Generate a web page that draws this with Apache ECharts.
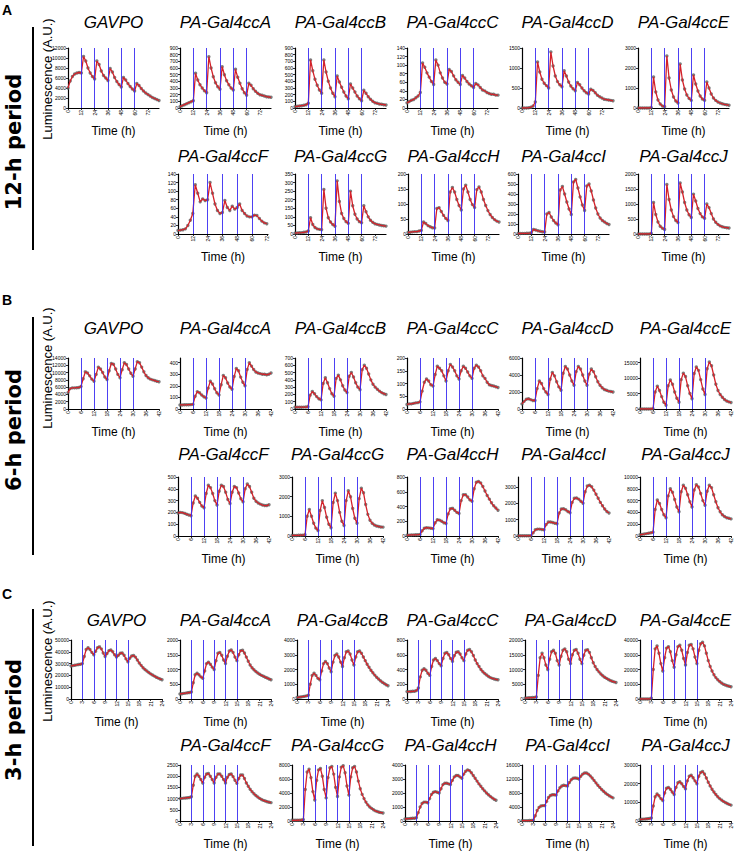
<!DOCTYPE html>
<html><head><meta charset="utf-8">
<script src="https://cdn.jsdelivr.net/npm/echarts@6/dist/echarts.min.js"></script>
<style>html,body{margin:0;padding:0;background:#fff}#c{width:736px;height:851px}</style>
</head><body><div id="c"></div>
<script>
// ---------------- DATA ----------------
const names = ['GAVPO','PA-Gal4ccA','PA-Gal4ccB','PA-Gal4ccC','PA-Gal4ccD','PA-Gal4ccE','PA-Gal4ccF','PA-Gal4ccG','PA-Gal4ccH','PA-Gal4ccI','PA-Gal4ccJ'];
const panelLetters = ['A','B','C'];
const periodLabels = ['12-h period','6-h period','3-h period'];
const yLabel = 'Luminescence (A.U.)';
const xLabel = 'Time (h)';

// 12-h period (panel A)
const time12 = [0,2,4,6,8,10,12,14,16,18,20,22,24,26,28,30,32,34,36,38,40,42,44,46,48,50,52,54,56,58,60,62,64,66,68,70,72,74,76,78,80,82];
const pulses12 = [12,24,36,48,60];
const xTicks12 = [0,12,24,36,48,60,72];
const p12_GAVPO = [4000,5400,6300,6800,7000,7100,7000, 10300,9400,8000,7000,6300,5800, 9400,8700,7400,6500,6000,5500, 7900,7200,6100,5300,4700,4200, 6100,5600,4900,4300,3800,3400, 4900,4500,3900,3400,3000,2700,2400,2100,1900,1700,1500];
const p12_ccA = [20,35,50,65,80,95,110, 520,420,350,300,260,230, 770,600,470,380,320,280, 620,500,410,350,300,270, 580,460,370,290,230,190, 370,340,290,250,220,200,190,180,170,165,160];
const p12_ccB = [20,25,30,35,40,50,70, 720,560,430,340,270,220, 720,540,400,300,220,170, 480,390,310,240,180,140, 360,300,240,180,140,110, 265,220,170,130,100,80,70,60,55,50,45];
const p12_ccC = [12,15,18,20,24,28,36, 105,95,82,72,62,55, 112,100,82,70,60,56, 90,85,75,66,60,55, 76,70,62,56,52,48, 57,54,48,42,40,36,34,32,32,30,30];
const p12_ccD = [0,0,0,5,20,50,150, 1150,900,720,620,560,500, 1400,1050,800,660,580,530, 930,800,650,550,480,430, 640,580,500,430,380,350, 470,440,380,320,280,250,220,210,200,190,180];
const p12_ccE = [0,0,0,0,0,0,20, 1550,800,400,200,100,60, 2600,1500,900,550,350,250, 2200,1400,950,650,480,380, 1650,1200,850,600,450,380, 1300,1000,700,500,380,300,250,210,180,160,140];
const p12_ccF = [8,9,10,12,20,32,48, 115,95,75,82,78,80, 120,95,70,55,48,50, 78,62,55,65,58,62, 70,55,48,42,40,40, 44,43,36,30,26,24];
const p12_ccG = [5,6,7,8,10,12,18, 95,55,38,30,27,25, 260,150,95,70,55,45, 310,190,120,90,72,62, 250,165,115,88,72,65, 165,130,100,80,68,60,56,53,50,48,46];
const p12_ccH = [5,6,7,8,8,10,12, 40,35,28,24,21,20, 85,88,75,62,52,45, 140,155,140,115,95,80, 150,163,140,115,98,88, 148,157,140,115,95,78,65,55,48,43,40];
const p12_ccI = [5,5,6,6,7,8,12, 45,40,32,27,23,20, 200,215,170,135,110,92, 440,475,400,320,250,195, 520,545,460,370,290,235, 480,500,430,340,260,200,160,135,120,105,95];
const p12_ccJ = [0,0,0,0,0,0,20, 1050,650,400,260,190,150, 1650,1150,800,580,450,380, 1700,1400,1050,800,640,550, 1330,1100,850,680,570,520, 1000,880,680,500,390,320,270,240,220,210,200];
const yTop12 = [12000,900,900,140,1500,3000,140,350,200,600,2000];
const yStep12 = [2000,100,100,20,500,1000,20,50,50,100,500];
const xMax12 = [82,82,82,82,82,82,73,82,82,82,82];

// 6-h period (panel B)
const time6 = [0,1,2,3,4,5,6,7,8,9,10,11,12,13,14,15,16,17,18,19,20,21,22,23,24,25,26,27,28,29,30,31,32,33,34,35,36,37,38,39,40,41,42];
const pulses6 = [6,12,18,24,30];
const xTicks6 = [0,6,12,18,24,30,36,42];
const p6_GAVPO = [4500,5600,5800,5800,5850,5900,6200, 8300,10200,9900,9100,8200,7600, 9500,11500,11000,10000,8800,8100, 10500,12500,12300,11000,9500,8600, 10800,12700,12200,11000,9800,9000, 11000,13000,12700,11500,10200,9200,8600,8200,8000,7800,7600,7500];
const p6_ccA = [35,35,36,36,37,38,40, 110,150,140,120,105,95, 180,240,215,175,140,120, 210,290,270,225,190,170, 280,350,330,275,230,200, 340,400,370,340,320,310,305,300,300,295,300,310];
const p6_ccB = [25,25,25,25,26,27,30, 190,240,210,170,140,125, 350,430,360,280,210,175, 420,465,400,320,260,225, 450,500,440,360,300,265, 540,600,560,480,400,340,300,270,245,225,210,200];
const p6_ccC = [18,20,20,22,24,25,28, 70,105,118,110,95,90, 135,168,160,150,130,110, 150,175,165,150,130,118, 150,168,160,145,130,120, 160,172,165,150,130,120,105,95,92,90,87,84];
const p6_ccD = [600,900,1150,1200,1100,1000,1000, 2400,3300,3000,2400,2000,1700, 3500,4300,3900,3200,2600,2200, 4200,5000,4700,4000,3300,2800, 4400,5000,4700,4000,3300,2800, 4100,4700,4400,3800,3200,2800,2500,2300,2200,2100,2050,2000];
const p6_ccE = [0,0,0,0,0,0,50, 5500,7400,6000,4000,2200,1200, 7500,9400,8000,5500,3500,2200, 9500,11600,10500,7500,5000,3300, 11500,13600,12500,9500,6500,4700, 13000,15200,14000,11000,8000,6000,4700,3800,3100,2600,2300,2100];
const p6_ccF = [195,200,198,192,185,178,172, 280,340,320,285,255,240, 360,430,410,360,300,262, 380,430,420,370,310,275, 370,420,410,365,315,290, 400,440,420,370,320,295,280,270,262,258,258,265];
const p6_ccG = [30,30,30,35,40,45,60, 1000,1350,1000,650,400,280, 1300,1800,1450,950,600,420, 1700,2180,1800,1200,750,530, 1800,2300,2000,1400,900,650, 1900,2430,2200,1600,1100,800,650,560,510,480,460,450];
const p6_ccH = [10,12,14,15,16,18,22, 70,105,112,110,105,100, 180,220,215,200,180,170, 300,370,375,350,320,305, 480,560,560,530,490,470, 640,730,740,720,670,610,550,500,450,410,380,350];
const p6_ccI = [10,10,10,10,12,15,20, 200,380,420,420,400,380, 700,850,850,820,780,750, 1400,1650,1660,1600,1500,1420, 2050,2300,2320,2250,2120,2000, 2700,3050,3100,3000,2800,2550,2300,2050,1850,1650,1500,1400];
const p6_ccJ = [200,270,330,400,470,540,620, 4500,6100,5500,4500,3600,3100, 6800,8000,7400,6200,4900,4100, 7500,8600,8100,7000,5800,4900, 7800,8700,8300,7200,6000,5200, 7600,8600,8200,7000,5800,4800,4100,3600,3300,3100,3000,2900];
const yTop6 = [14000,440,700,200,6000,16500,500,3000,800,3600,10000];
const yStep6 = [2000,100,100,50,2000,5000,100,1000,200,1000,2000];
const xMax6 = [42,42,42,42,42,42,42,42,42,42,42];

// 3-h period (panel C)
const time3 = [0,0.5,1,1.5,2,2.5,3,3.5,4,4.5,5,5.5,6,6.5,7,7.5,8,8.5,9,9.5,10,10.5,11,11.5,12,12.5,13,13.5,14,14.5,15,15.5,16,16.5,17,17.5,18,18.5,19,19.5,20,20.5,21,21.5,22,22.5,23,23.5,24];
const pulses3 = [3,6,9,12,15];
const xTicks3 = [0,3,6,9,12,15,18,21,24];
const p3_GAVPO = [28000,28300,28600,28900,29200,29500,30000, 36000,42000,43500,42000,39500,37500, 40500,43500,44200,42500,39000,36000, 38500,41000,41500,40000,37500,35500, 37000,38800,39000,37000,34000,31500, 34500,36500,36800,35500,33000,30500,28500,26500,25000,23700,22500,21300,20300,19400,18500,17700,17000,16300];
const p3_ccA = [170,180,190,200,210,220,235, 550,820,870,820,750,700, 950,1200,1250,1180,1080,1000, 1300,1550,1580,1480,1320,1200, 1450,1630,1660,1580,1420,1300, 1500,1640,1650,1560,1420,1280,1150,1060,990,930,880,840,800,770,740,710,680,650];
const p3_ccB = [100,120,140,160,180,210,250, 1000,1600,1750,1600,1400,1300, 1900,2400,2550,2400,2100,1850, 2500,2950,3050,2850,2500,2200, 2800,3200,3250,3050,2650,2300, 2850,3200,3250,3100,2850,2600,2350,2150,1950,1780,1620,1480,1350,1240,1140,1050,970,900];
const p3_ccC = [100,100,102,104,106,115,150, 300,390,410,390,350,320, 440,530,550,520,480,450, 550,620,630,600,550,510, 590,635,640,610,560,520, 610,660,670,640,590,530,480,440,400,370,345,325,305,290,280,272,265,260];
const p3_ccD = [300,350,400,450,500,550,700, 8000,14000,15500,14000,11500,10000, 13500,16000,16500,15500,13000,11500, 14500,16500,17000,16000,13500,12000, 15000,16500,16800,15500,13500,12000, 14800,16500,16700,15800,14000,12300,11000,10000,9200,8500,7900,7400,7000,6600,6300,6000,5800,5600];
const p3_ccE = [0,0,0,0,0,0,500, 20000,34000,36000,31000,24000,19000, 28000,34500,35500,32000,26000,21500, 30000,35500,36500,33000,27500,23000, 31500,36500,37000,34000,28500,24000, 33000,37500,38500,36000,31000,26000,22000,19000,16500,14500,13000,11800,10800,10000,9500,9000,8600,8300];
const p3_ccF = [1000,1010,1020,1030,1040,1050,1080, 1600,2000,2100,2000,1850,1700, 1950,2100,2120,2000,1850,1700, 1950,2100,2100,2000,1850,1700, 1950,2080,2100,1980,1820,1680, 1900,2050,2050,1900,1700,1550,1420,1310,1220,1140,1070,1010,960,920,890,860,840,820];
const p3_ccG = [100,100,100,110,120,130,200, 4500,7000,7400,6200,4200,3000, 5800,7300,7500,6400,4500,3300, 6200,7600,7800,6700,4800,3500, 6300,7700,7900,6900,5000,3700, 6300,7600,7800,7000,5700,4600,3800,3200,2700,2300,2000,1800,1600,1450,1350,1250,1200,1150];
const p3_ccH = [150,160,170,180,190,200,230, 600,1000,1250,1350,1350,1300, 1600,1900,2050,2100,2050,2000, 2300,2600,2700,2700,2650,2600, 2900,3150,3250,3250,3150,3050, 3350,3550,3650,3600,3450,3250,3050,2850,2650,2480,2300,2150,2000,1880,1760,1650,1560,1480];
const p3_ccI = [100,100,100,100,120,150,250, 1500,3000,3900,4300,4400,4400, 5600,6700,7300,7500,7500,7400, 8600,9500,10000,10200,10100,10000, 11000,11800,12200,12300,12200,12000, 12800,13400,13700,13700,13400,12900,12300,11600,10900,10200,9600,9000,8500,8000,7600,7200,6900,6600];
const p3_ccJ = [800,900,1000,1100,1200,1300,1600, 8000,13000,14500,13500,12000,11000, 15000,17500,18000,17000,15500,14200, 18000,20500,21000,20000,18500,17200, 21500,24000,24500,23200,21500,20000, 24000,26000,26500,25200,23000,20800,18800,17000,15500,14200,13000,12000,11200,10500,9900,9400,8900,8500];
const yTop3 = [50000,2000,4000,800,20000,40000,2500,8000,4000,16000,30000];
const yStep3 = [10000,500,1000,200,5000,10000,500,2000,1000,4000,10000];
const xMax3 = [24,24,24,24,24,24,24,24,24,24,24];

// ---------------- LAYOUT ----------------
const panels = [
  {times: time12, pulses: pulses12, xTicks: xTicks12, yTop: yTop12, yStep: yStep12, xMax: xMax12,
   series: [p12_GAVPO,p12_ccA,p12_ccB,p12_ccC,p12_ccD,p12_ccE,p12_ccF,p12_ccG,p12_ccH,p12_ccI,p12_ccJ],
   L: {r1Top:48, r1H:60, r2Top:174, r2H:60, r1X:[68,180,295,407,522,638], r2X:[178,295,408,518,638],
       titleY:[22,156], letterY:10, sepY:[27,250], periodY:142, lumY:79}},
  {times: time6, pulses: pulses6, xTicks: xTicks6, yTop: yTop6, yStep: yStep6, xMax: xMax6,
   series: [p6_GAVPO,p6_ccA,p6_ccB,p6_ccC,p6_ccD,p6_ccE,p6_ccF,p6_ccG,p6_ccH,p6_ccI,p6_ccJ],
   L: {r1Top:358, r1H:51, r2Top:477, r2H:59, r1X:[68,180,295,407,522,640], r2X:[178,292,407,518,640],
       titleY:[328,454], letterY:300, sepY:[317,555], periodY:430, lumY:368}},
  {times: time3, pulses: pulses3, xTicks: xTicks3, yTop: yTop3, yStep: yStep3, xMax: xMax3,
   series: [p3_GAVPO,p3_ccA,p3_ccB,p3_ccC,p3_ccD,p3_ccE,p3_ccF,p3_ccG,p3_ccH,p3_ccI,p3_ccJ],
   L: {r1Top:640, r1H:59, r2Top:765, r2H:58, r1X:[71,180,297,407,525,640], r2X:[180,292,405,522,640],
       titleY:[620,745], letterY:594, sepY:[609,846], periodY:720, lumY:661}}
];

const FONT = "'Liberation Sans', Arial, sans-serif";
const grid=[], xAxis=[], yAxis=[], series=[], graphic=[];
let idx = 0;
panels.forEach((p, pi) => {
  const L = p.L;
  p.series.forEach((vals, i) => {
    const row = i < 6 ? 0 : 1;
    const col = row === 0 ? i : i - 6;
    const left = row === 0 ? L.r1X[col] : L.r2X[col];
    const top = row === 0 ? L.r1Top : L.r2Top;
    const h = row === 0 ? L.r1H : L.r2H;
    const xMax = p.xMax[i];
    const w = xMax < 80 && pi === 0 ? 90 : 91;
    grid.push({left: left, top: top, width: w, height: h, containLabel: false});
    const xt = p.xTicks.filter(v => v <= xMax);
    const yt = [];
    for (let v = 0; v <= p.yTop[i] + 1e-9; v += p.yStep[i]) yt.push(v);
    xAxis.push({gridIndex: idx, type: 'value', min: 0, max: xMax,
      axisLine: {show: true, onZero: false, lineStyle: {color: '#000', width: 1.2}},
      axisTick: {show: true, length: 2, customValues: xt, lineStyle: {color: '#000', width: 0.8}},
      axisLabel: {show: true, customValues: xt, rotate: 90, fontSize: 5, margin: 2, color: '#000', fontFamily: FONT, formatter: v => String(v)},
      splitLine: {show: false},
      name: xLabel, nameLocation: 'middle', nameGap: 17,
      nameTextStyle: {fontSize: 12, color: '#000', fontFamily: FONT}});
    yAxis.push({gridIndex: idx, type: 'value', min: 0, max: p.yTop[i],
      axisLine: {show: true, onZero: false, lineStyle: {color: '#000', width: 1.2}},
      axisTick: {show: true, length: 2, customValues: yt, lineStyle: {color: '#000', width: 0.8}},
      axisLabel: {show: true, customValues: yt, fontSize: 5, margin: 2, color: '#000', fontFamily: FONT, formatter: v => String(v)},
      splitLine: {show: false}});
    const data = [];
    vals.forEach((v, k) => { if (v != null) data.push([p.times[k], v]); });
    series.push({type: 'scatter', xAxisIndex: idx, yAxisIndex: idx, data: data, symbolSize: 3.4,
      itemStyle: {color: '#5c5c5c'}, silent: true, z: 2,
      markLine: {silent: true, symbol: ['none','none'], label: {show: false}, animation: false,
        lineStyle: {color: '#3a2cf2', width: 1, type: 'solid', opacity: 0.9},
        data: p.pulses.map(x => ({xAxis: x}))}});
    series.push({type: 'line', xAxisIndex: idx, yAxisIndex: idx, data: data, showSymbol: false,
      lineStyle: {color: '#d3222a', width: 1.3}, silent: true, z: 3});
    graphic.push({type: 'text', x: left + w / 2, y: L.titleY[row], silent: true,
      style: {text: names[i], font: 'italic 17px ' + FONT, fill: '#000', align: 'center', verticalAlign: 'middle'}});
    idx++;
  });
  graphic.push({type: 'text', x: 2, y: L.letterY, silent: true,
    style: {text: panelLetters[pi], font: 'bold 14px ' + FONT, fill: '#000', align: 'left', verticalAlign: 'middle'}});
  graphic.push({type: 'line', silent: true, shape: {x1: 33, y1: L.sepY[0], x2: 33, y2: L.sepY[1]},
    style: {stroke: '#000', lineWidth: 2}});
  graphic.push({type: 'text', x: 14, y: L.periodY, rotation: Math.PI / 2, silent: true,
    style: {text: periodLabels[pi], font: "bold 21px 'DejaVu Sans', sans-serif", fill: '#000', align: 'center', verticalAlign: 'middle'}});
  graphic.push({type: 'text', x: 47, y: L.lumY, rotation: Math.PI / 2, silent: true,
    style: {text: yLabel, font: '13px ' + FONT, fill: '#000', align: 'center', verticalAlign: 'middle'}});
});

const chart = echarts.init(document.getElementById('c'), null, {renderer: 'svg'});
chart.setOption({animation: false, backgroundColor: '#fff', grid, xAxis, yAxis, series, graphic});
</script></body></html>
